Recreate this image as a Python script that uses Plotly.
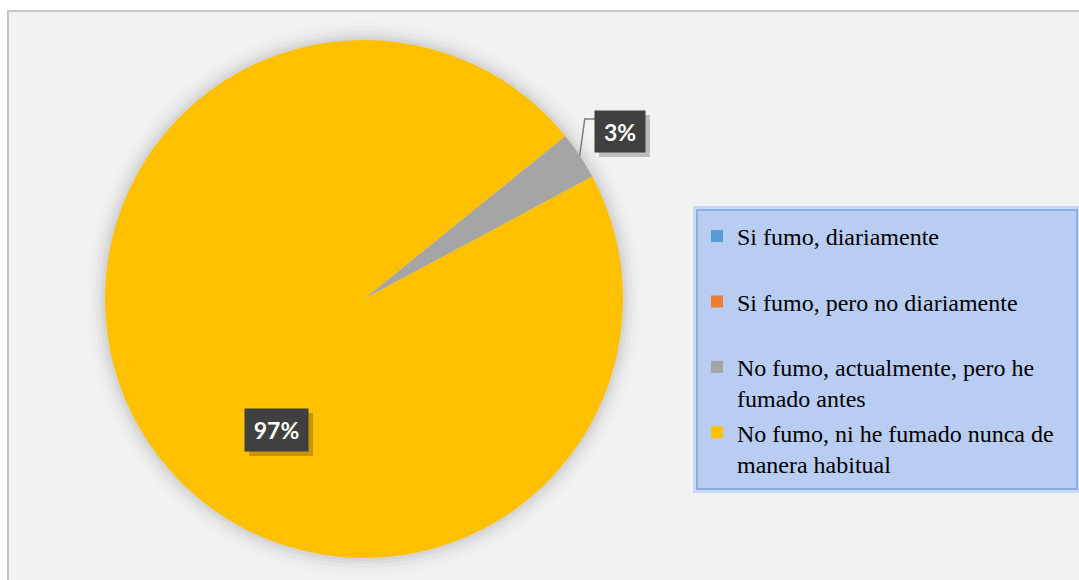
import math
import plotly.graph_objects as go

# ---- data ----
categories = [
    "Si fumo, diariamente",
    "Si fumo, pero no diariamente",
    "No fumo, actualmente, pero he fumado antes",
    "No fumo, ni he fumado nunca de manera habitual",
]
legend_lines = [
    ["Si fumo, diariamente"],
    ["Si fumo, pero no diariamente"],
    ["No fumo, actualmente, pero he", "fumado antes"],
    ["No fumo, ni he fumado nunca de", "manera habitual"],
]
values = [0, 0, 3, 97]
colors = ["#5b9bd5", "#ed7d31", "#a5a5a5", "#ffc000"]

W, H = 1079, 580
rotation = 51

# pie geometry (pixels)
cx, cy, r = 364, 299, 259
dom_x = [(cx - r) / W, (cx + r) / W]
dom_y = [1 - (cy + r) / H, 1 - (cy - r) / H]


def px(x):
    return x / W


def py(y):
    return 1 - y / H


def leg_text(lines):
    body = "<br>".join(lines)
    if len(lines) == 1:
        body += "<br> "
    return body


labels = [leg_text(l) for l in legend_lines]

fig = go.Figure()
fig.add_trace(go.Pie(
    labels=labels,
    values=values,
    sort=False,
    direction="clockwise",
    rotation=rotation,
    marker=dict(colors=colors, line=dict(width=0)),
    textinfo="none",
    domain=dict(x=dom_x, y=dom_y),
    hovertext=categories,
    hoverinfo="text+percent",
))

shapes = []
# chart area
shapes.append(dict(type="rect", xref="paper", yref="paper", layer="below",
                   x0=px(8), x1=px(W + 10), y0=py(H + 10), y1=py(11),
                   fillcolor="#f2f2f2", line=dict(color="#c4c4c4", width=2)))
# soft pie shadow
for k, a in [(18, 0.012), (14, 0.016), (10, 0.022), (6, 0.03), (3, 0.035)]:
    shapes.append(dict(type="circle", xref="paper", yref="paper", layer="below",
                       x0=px(cx - r - k), x1=px(cx + r + k),
                       y0=py(cy + r + k), y1=py(cy - r - k),
                       fillcolor="rgba(0,0,0,%s)" % a, line=dict(width=0)))
# legend box
shapes.append(dict(type="rect", xref="paper", yref="paper", layer="below",
                   x0=px(695), x1=px(1079), y0=py(491), y1=py(208),
                   fillcolor="rgba(0,0,0,0)", line=dict(color="#c9d8f3", width=4)))
shapes.append(dict(type="rect", xref="paper", yref="paper", layer="below",
                   x0=px(697), x1=px(1077), y0=py(489), y1=py(210),
                   fillcolor="#b8cdf1", line=dict(color="#8eaee6", width=2)))

# data labels
total = sum(values)
pcts = ["%d%%" % round(v / total * 100) for v in values]

label_pos = {3: (276.5, 430, 63, 42), 2: (620, 131.5, 50, 41)}

# leader line for the grey slice
start = sum(values[:2]) / total * 360 + rotation
span = values[2] / total * 360
mid = math.radians(start + span / 2)
lx, ly = cx + r * math.sin(mid), cy - r * math.cos(mid)
bx, by, bw, bh = label_pos[2]
shapes.append(dict(type="path", xref="paper", yref="paper",
                   path="M %f,%f L %f,%f L %f,%f" % (px(lx), py(ly), px(lx + 5), py(by - 12.5),
                                                      px(bx - bw / 2), py(by - 12.5)),
                   line=dict(color="#7f7f7f", width=1.5)))

annotations = []
for i in [3, 2]:
    x, y, w, h = label_pos[i]
    # shadow
    shapes.append(dict(type="rect", xref="paper", yref="paper", layer="above",
                       x0=px(x - w / 2 + 4), x1=px(x + w / 2 + 5),
                       y0=py(y + h / 2 + 5), y1=py(y - h / 2 + 4),
                       fillcolor="rgba(0,0,0,0.22)", line=dict(width=0)))
    annotations.append(dict(x=px(x), y=py(y), xref="paper", yref="paper",
                            xanchor="center", yanchor="middle",
                            text="<b>%s</b>" % pcts[i],
                            showarrow=False, width=w, height=h,
                            bgcolor="#404040", borderpad=0,
                            font=dict(family="Lato", size=23, color="#ffffff")))

fig.update_layout(
    width=W, height=H,
    margin=dict(l=0, r=0, t=0, b=0),
    paper_bgcolor="#ffffff",
    plot_bgcolor="#ffffff",
    shapes=shapes,
    annotations=annotations,
    showlegend=True,
    legend=dict(
        x=px(697), y=py(214), xanchor="left", yanchor="top",
        bgcolor="rgba(0,0,0,0)", borderwidth=0,
        font=dict(family="Liberation Serif", size=24, color="#000000"),
        valign="top", traceorder="normal",
    ),
)

fig.write_html("out.html", config={"displayModeBar": False},
               post_script="document.body.style.margin='0';document.body.style.padding='0';")
